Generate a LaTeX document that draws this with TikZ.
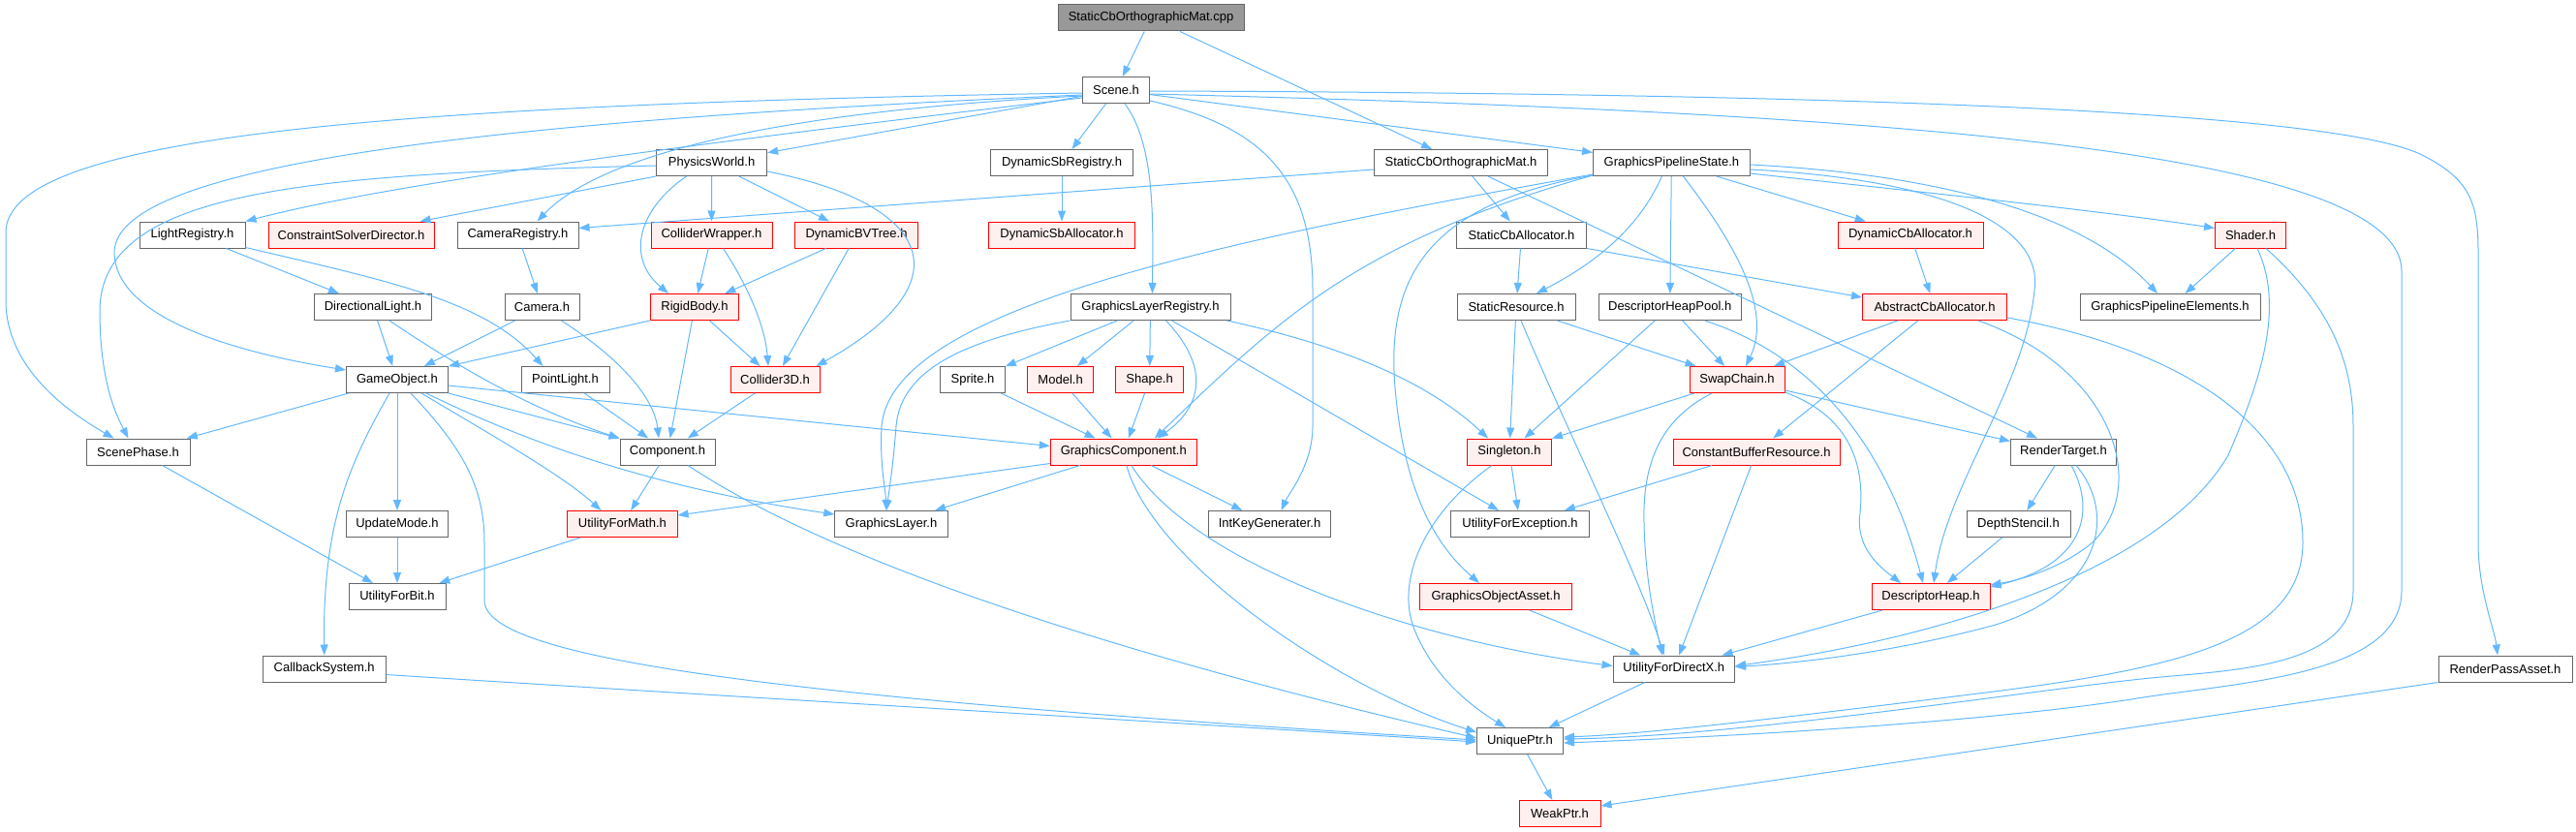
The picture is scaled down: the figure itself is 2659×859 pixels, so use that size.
\documentclass[tikz,border=0pt]{standalone}
\usepackage{fontspec}
\setmainfont{Liberation Sans}
\usetikzlibrary{arrows.meta,calc}
\definecolor{edgeblue}{HTML}{63B8FF}
\definecolor{nodegray}{HTML}{666666}
\definecolor{nodered}{HTML}{FF0000}
\definecolor{nodepink}{HTML}{FFF0F0}
\definecolor{rootgray}{HTML}{999999}
\tikzset{
  nb/.style={draw=nodegray, fill=white, line width=1pt, minimum height=27pt, inner sep=0pt, font=\fontsize{13}{15}\selectfont},
  nr/.style={nb, draw=nodered, fill=nodepink},
  nroot/.style={nb, fill=rootgray},
  dep/.style={draw=edgeblue, line width=1pt, -{Triangle[length=11pt,width=8pt]}}
}
\begin{document}
\begin{tikzpicture}[x=1pt,y=-1pt]
\useasboundingbox (0,0) rectangle (2659,859);
% nodes
\node[nroot, minimum width=192pt] (cpp) at (1188,18.5) {StaticCbOrthographicMat.cpp};
\node[nb, minimum width=69pt] (scene) at (1152,93) {Scene.h};
\node[nb, minimum width=114pt] (phys) at (734.6,168) {PhysicsWorld.h};
\node[nb, minimum width=147.6pt] (dsbreg) at (1096,168) {DynamicSbRegistry.h};
\node[nb, minimum width=179pt] (scomh) at (1508,168) {StaticCbOrthographicMat.h};
\node[nb, minimum width=161.6pt] (gps) at (1725.4,168) {GraphicsPipelineState.h};
\node[nb, minimum width=109pt] (lightreg) at (198.5,242.5) {LightRegistry.h};
\node[nr, minimum width=171pt] (csd) at (362.5,242.5) {ConstraintSolverDirector.h};
\node[nb, minimum width=125pt] (camreg) at (534.5,242.5) {CameraRegistry.h};
\node[nr, minimum width=125pt] (cwrap) at (734.5,242.5) {ColliderWrapper.h};
\node[nr, minimum width=127pt] (dbvt) at (884,242.5) {DynamicBVTree.h};
\node[nr, minimum width=150.5pt] (dsballoc) at (1096,242.5) {DynamicSbAllocator.h};
\node[nb, minimum width=134pt] (scballoc) at (1570.5,242.5) {StaticCbAllocator.h};
\node[nr, minimum width=150pt] (dcballoc) at (1972,242.5) {DynamicCbAllocator.h};
\node[nr, minimum width=73pt] (shader) at (2323,242.5) {Shader.h};
\node[nb, minimum width=121pt] (dirlight) at (385,317) {DirectionalLight.h};
\node[nb, minimum width=77pt] (camera) at (559.5,317) {Camera.h};
\node[nr, minimum width=91.5pt] (rigid) at (717,317) {RigidBody.h};
\node[nb, minimum width=165pt] (glreg) at (1187.5,317) {GraphicsLayerRegistry.h};
\node[nb, minimum width=122pt] (sres) at (1565,317) {StaticResource.h};
\node[nb, minimum width=147pt] (dhpool) at (1723.7,317) {DescriptorHeapPool.h};
\node[nr, minimum width=149pt] (acballoc) at (1997,317) {AbstractCbAllocator.h};
\node[nb, minimum width=186pt] (gpelem) at (2240,317) {GraphicsPipelineElements.h};
\node[nb, minimum width=105pt] (gameobj) at (410,392) {GameObject.h};
\node[nb, minimum width=91pt] (pointlight) at (583.5,392) {PointLight.h};
\node[nr, minimum width=92pt] (coll3d) at (800,392) {Collider3D.h};
\node[nb, minimum width=66.5pt] (sprite) at (1004,392) {Sprite.h};
\node[nr, minimum width=68pt] (model) at (1094.6,392) {Model.h};
\node[nr, minimum width=70pt] (shape) at (1186.6,392) {Shape.h};
\node[nr, minimum width=98pt] (swap) at (1793,392) {SwapChain.h};
\node[nb, minimum width=107pt] (scenephase) at (142.5,466.5) {ScenePhase.h};
\node[nb, minimum width=98pt] (component) at (689,466.5) {Component.h};
\node[nr, minimum width=151pt] (gcomp) at (1159.8,466.5) {GraphicsComponent.h};
\node[nr, minimum width=87pt] (singleton) at (1558,466.5) {Singleton.h};
\node[nr, minimum width=172pt] (cbres) at (1813,466.5) {ConstantBufferResource.h};
\node[nb, minimum width=109pt] (rtarget) at (2130,466.5) {RenderTarget.h};
\node[nb, minimum width=105pt] (updatemode) at (410,541) {UpdateMode.h};
\node[nr, minimum width=113.4pt] (umath) at (642.4,541) {UtilityForMath.h};
\node[nb, minimum width=116.5pt] (glayer) at (920,541) {GraphicsLayer.h};
\node[nb, minimum width=126.4pt] (intkey) at (1310.5,541) {IntKeyGenerater.h};
\node[nb, minimum width=143pt] (uexc) at (1569,541) {UtilityForException.h};
\node[nb, minimum width=107pt] (depth) at (2083.5,541) {DepthStencil.h};
\node[nb, minimum width=100pt] (ubit) at (410,616) {UtilityForBit.h};
\node[nr, minimum width=156.7pt] (goasset) at (1544,616) {GraphicsObjectAsset.h};
\node[nr, minimum width=122pt] (dheap) at (1993,616) {DescriptorHeap.h};
\node[nb, minimum width=127pt] (callback) at (334.7,690.5) {CallbackSystem.h};
\node[nb, minimum width=125.5pt] (udx) at (1727.8,690.5) {UtilityForDirectX.h};
\node[nb, minimum width=138pt] (rpasset) at (2586,690.5) {RenderPassAsset.h};
\node[nb, minimum width=89pt] (uptr) at (1569,765) {UniquePtr.h};
\node[nr, minimum width=84pt] (weak) at (1610,840) {WeakPtr.h};
% edges
\draw[dep] (cpp) -- (scene);
\draw[dep] (cpp) -- (scomh);
\draw[dep] (scene) -- (phys);
\draw[dep] (scene) -- (dsbreg);
\draw[dep] ($(scene.south)+(9,0)$) .. controls (1193,150) and (1190,230) .. ($(glreg.north)+(2,0)$);
\draw[dep] (scene) -- (gps);
\draw[dep] ($(scene.west)+(0,3)$) .. controls (400,108) and (6,140) .. (6,240) -- (6,310) .. controls (6,380) and (70,425) .. ($(scenephase.north)+(-25,0)$);
\draw[dep] ($(scene.west)+(0,5)$) .. controls (500,125) and (120,170) .. (118,260) .. controls (118,330) and (250,365) .. ($(gameobj.west)+(0,-10)$);
\draw[dep] ($(phys.west)+(0,3)$) .. controls (300,180) and (105,200) .. (103,320) .. controls (103,390) and (118,425) .. ($(scenephase.north)+(-10,0)$);
\draw[dep] ($(scene.west)+(0,8)$) .. controls (700,150) and (400,190) .. (lightreg.north east);
\draw[dep] ($(scene.west)+(0,6)$) .. controls (800,115) and (620,160) .. ($(camreg.north)+(20,0)$);
\draw[dep] (phys.south west) -- ($(csd.north east)+(-15,0)$);
\draw[dep] (phys) -- (cwrap);
\draw[dep] (phys) -- (dbvt);
\draw[dep] ($(phys.south)+(-26,0)$) .. controls (660,215) and (645,265) .. ($(rigid.north)+(-27,0)$);
\draw[dep] ($(phys.east)+(0,9)$) .. controls (960,210) and (1000,290) .. ($(coll3d.north east)+(-4,0)$);
\draw[dep] (dsbreg) -- (dsballoc);
\draw[dep] ($(scomh.west)+(0,7)$) -- ($(camreg.east)+(0,-7)$);
\draw[dep] (scomh) -- (scballoc);
\draw[dep] ($(scomh.south)+(28,0)$) -- ($(rtarget.north)+(-27,0)$);
\draw[dep] ($(gps.west)+(0,12)$) .. controls (1250,250) and (920,320) .. (910,440) .. controls (908,480) and (914,505) .. ($(glayer.north)+(-5,0)$);
\draw[dep] ($(gps.west)+(0,13)$) .. controls (1400,250) and (1320,330) .. ($(gcomp.north)+(32,0)$);
\draw[dep] ($(gps.west)+(0,13)$) .. controls (1480,210) and (1430,280) .. (1440,400) .. controls (1450,520) and (1490,570) .. ($(goasset.north)+(-17,0)$);
\draw[dep] ($(gps.south)+(-10,0)$) .. controls (1690,240) and (1640,275) .. ($(sres.north)+(21,0)$);
\draw[dep] (gps) -- (dhpool);
\draw[dep] ($(gps.south)+(12,0)$) .. controls (1790,250) and (1830,320) .. ($(swap.north)+(9,0)$);
\draw[dep] (gps) -- (dcballoc);
\draw[dep] ($(gps.east)+(0,11)$) .. controls (1950,195) and (2150,215) .. ($(shader.west)+(0,-7)$);
\draw[dep] ($(gps.east)+(0,2)$) .. controls (2000,180) and (2150,220) .. ($(gpelem.north)+(-13,0)$);
\draw[dep] ($(gps.east)+(0,7)$) .. controls (2000,185) and (2110,230) .. (2100,300) .. controls (2090,400) and (2010,500) .. ($(dheap.north)+(3,0)$);
\draw[dep] (scballoc) -- (sres);
\draw[dep] (scballoc.south east) -- ($(acballoc.west)+(0,-10)$);
\draw[dep] (dcballoc) -- (acballoc);
\draw[dep] (shader) -- (gpelem);
\draw[dep] ($(shader.south)+(7,0)$) .. controls (2360,320) and (2330,400) .. (2300,470) .. controls (2230,590) and (2000,660) .. ($(udx.east)+(0,-3)$);
\draw[dep] ($(shader.south)+(16,0)$) .. controls (2410,320) and (2429,380) .. (2429,440) -- (2429,610) .. controls (2429,690) and (2300,692) .. (2220,700) .. controls (2100,712) and (1800,760) .. ($(uptr.east)+(0,-2)$);
\draw[dep] ($(scene.east)+(0,1)$) .. controls (1800,96) and (2400,110) .. (2500,160) .. controls (2550,185) and (2558,210) .. (2558,260) -- (2558,560) .. controls (2558,610) and (2575,650) .. ($(rpasset.north)+(-8,0)$);
\draw[dep] ($(scene.east)+(0,4)$) .. controls (1900,115) and (2479,150) .. (2479,280) -- (2479,610) .. controls (2479,700) and (2300,705) .. (2200,722) .. controls (2050,745) and (1800,760) .. ($(uptr.east)+(0,2)$);
\draw[dep] ($(scene.east)+(0,11)$) .. controls (1300,130) and (1355,180) .. (1355,300) -- (1355,440) .. controls (1355,480) and (1330,510) .. ($(intkey.north)+(12,0)$);
\draw[dep] (acballoc) -- (swap);
\draw[dep] (acballoc) -- (cbres);
\draw[dep] ($(acballoc.south east)+(-30,0)$) .. controls (2180,380) and (2220,500) .. (2160,560) .. controls (2130,585) and (2090,598) .. ($(dheap.north east)+(0,2)$);
\draw[dep] ($(acballoc.east)+(0,11)$) .. controls (2250,360) and (2377,440) .. (2377,560) .. controls (2377,660) and (2250,690) .. (2050,715) .. controls (1850,740) and (1700,758) .. ($(uptr.east)+(0,-4)$);
\draw[dep] (rtarget) -- (depth);
\draw[dep] ($(rtarget.south)+(8,0)$) .. controls (2160,520) and (2160,580) .. ($(dheap.north east)+(0,4)$);
\draw[dep] ($(rtarget.south)+(13,0)$) .. controls (2185,530) and (2170,610) .. (2060,645) .. controls (1950,675) and (1850,685) .. ($(udx.east)+(0,-2)$);
\draw[dep] (depth) -- (dheap);
\draw[dep] (swap) -- (singleton);
\draw[dep] ($(swap.east)+(0,11)$) -- ($(rtarget.west)+(0,-11)$);
\draw[dep] ($(swap.east)+(0,13)$) .. controls (1910,430) and (1925,480) .. (1920,530) .. controls (1915,565) and (1940,585) .. ($(dheap.north)+(-31,0)$);
\draw[dep] ($(swap.south)+(-26,0)$) .. controls (1720,430) and (1695,470) .. (1697,540) .. controls (1698,600) and (1710,650) .. ($(udx.north)+(-12,0)$);
\draw[dep] (dhpool) -- (swap);
\draw[dep] (dhpool) -- (singleton);
\draw[dep] ($(dhpool.south)+(36,0)$) .. controls (1880,370) and (1950,470) .. ($(dheap.north)+(-8,0)$);
\draw[dep] (sres) -- (singleton);
\draw[dep] (sres) -- (swap);
\draw[dep] ($(sres.south)+(5,0)$) .. controls (1620,450) and (1690,590) .. ($(udx.north)+(-10,0)$);
\draw[dep] (singleton) -- (uexc);
\draw[dep] ($(singleton.south)+(-18,0)$) .. controls (1470,530) and (1440,600) .. (1460,650) .. controls (1480,700) and (1520,730) .. ($(uptr.north)+(-15,0)$);
\draw[dep] (cbres) -- (uexc);
\draw[dep] (cbres) -- (udx);
\draw[dep] (goasset) -- (udx);
\draw[dep] (dheap) -- (udx);
\draw[dep] (udx) -- (uptr);
\draw[dep] (uptr) -- (weak);
\draw[dep] (rpasset.south west) -- ($(weak.east)+(0,-8)$);
\draw[dep] (glreg) -- (sprite);
\draw[dep] (glreg) -- (model);
\draw[dep] (glreg) -- (shape);
\draw[dep] (glreg.south west) .. controls (1000,350) and (930,380) .. (925,440) .. controls (922,480) and (918,505) .. ($(glayer.north)+(-5,0)$);
\draw[dep] ($(glreg.south)+(16,0)$) .. controls (1250,380) and (1240,420) .. ($(gcomp.north)+(35,0)$);
\draw[dep] ($(glreg.south east)+(-4,0)$) .. controls (1400,360) and (1480,400) .. ($(singleton.north west)+(22,0)$);
\draw[dep] ($(glreg.south)+(22,0)$) -- ($(uexc.north)+(-22,0)$);
\draw[dep] (sprite) -- (gcomp);
\draw[dep] (model) -- (gcomp);
\draw[dep] (shape) -- (gcomp);
\draw[dep] ($(gcomp.west)+(0,12)$) -- ($(umath.east)+(0,-9)$);
\draw[dep] (gcomp) -- (glayer);
\draw[dep] (gcomp) -- (intkey);
\draw[dep] ($(gcomp.south)+(8,0)$) .. controls (1230,580) and (1450,660) .. ($(udx.west)+(0,-3)$);
\draw[dep] ($(gcomp.south)+(3,0)$) .. controls (1190,580) and (1380,710) .. ($(uptr.north west)+(0,5)$);
\draw[dep] (component) -- (umath);
\draw[dep] ($(component.south)+(21,0)$) .. controls (800,540) and (1000,640) .. ($(uptr.west)+(0,-3)$);
\draw[dep] (gameobj) -- (scenephase);
\draw[dep] (gameobj.south east) -- (component.north west);
\draw[dep] ($(gameobj.east)+(0,6)$) -- ($(gcomp.west)+(0,-6)$);
\draw[dep] (gameobj) -- (updatemode);
\draw[dep] ($(gameobj.south)+(-8,0)$) .. controls (360,480) and (333,540) .. (callback.north);
\draw[dep] ($(gameobj.south)+(14,0)$) .. controls (475,460) and (500,500) .. (500,560) -- (500,620) .. controls (500,680) and (800,720) .. ($(uptr.west)+(0,-1)$);
\draw[dep] ($(gameobj.south)+(25,0)$) .. controls (500,445) and (580,490) .. ($(umath.north)+(-22,0)$);
\draw[dep] ($(gameobj.south)+(30,0)$) .. controls (520,445) and (650,500) .. ($(glayer.west)+(0,-10)$);
\draw[dep] (dirlight) -- (gameobj);
\draw[dep] ($(dirlight.south)+(17,0)$) .. controls (460,370) and (540,420) .. (component.north west);
\draw[dep] (lightreg) -- (dirlight);
\draw[dep] ($(lightreg.south east)+(0,-1)$) .. controls (400,290) and (500,310) .. ($(pointlight.north)+(-23,0)$);
\draw[dep] (camreg) -- (camera);
\draw[dep] (camera) -- (gameobj);
\draw[dep] ($(camera.south)+(20,0)$) .. controls (640,370) and (675,410) .. ($(component.north)+(-9,0)$);
\draw[dep] (rigid.south west) -- (gameobj.north east);
\draw[dep] (rigid) -- (component);
\draw[dep] (rigid) -- (coll3d);
\draw[dep] (cwrap) -- (rigid);
\draw[dep] ($(cwrap.south)+(12,0)$) .. controls (775,300) and (790,340) .. ($(coll3d.north)+(-7,0)$);
\draw[dep] (dbvt) -- (rigid);
\draw[dep] (dbvt) -- (coll3d);
\draw[dep] (coll3d) -- (component);
\draw[dep] (pointlight) -- (component);
\draw[dep] (scenephase) -- (ubit);
\draw[dep] (updatemode) -- (ubit);
\draw[dep] (umath) -- (ubit);
\draw[dep] ($(callback.east)+(0,6)$) .. controls (700,716) and (1200,745) .. ($(uptr.west)+(0,1)$);
\end{tikzpicture}
\end{document}
